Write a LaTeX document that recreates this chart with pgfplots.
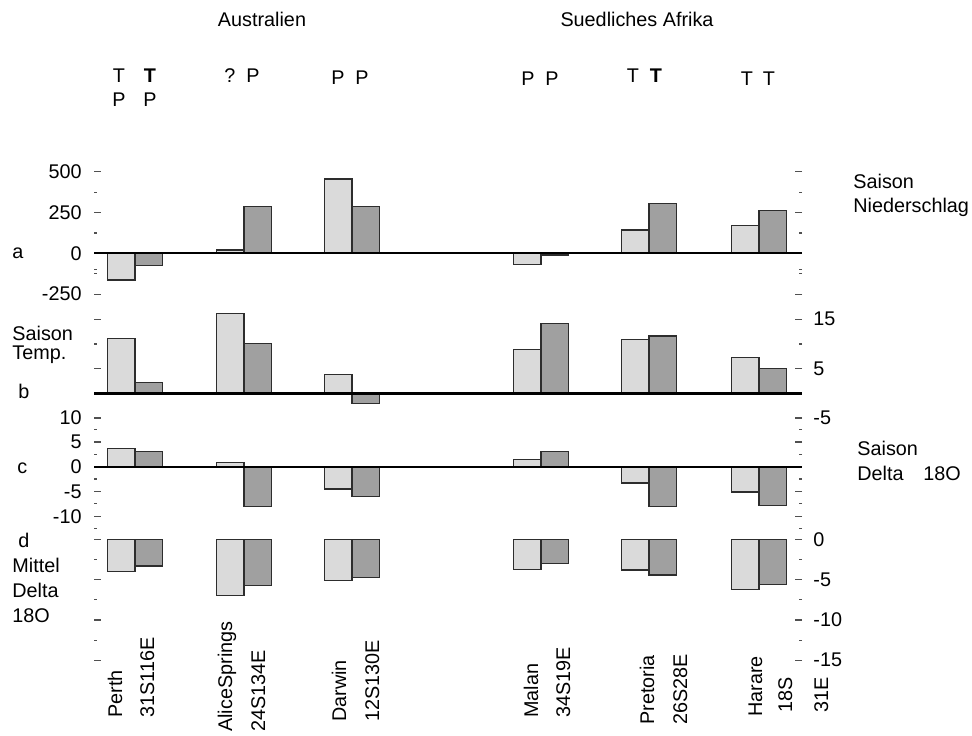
\documentclass[border=0pt]{standalone}
\usepackage{pgfplots}
\pgfplotsset{compat=1.18}
\usepackage{pgfplotstable}
\usepackage{fontspec}
\setmainfont{Liberation Sans}

\definecolor{barlight}{RGB}{218,218,218}
\definecolor{bardark}{RGB}{160,160,160}
\definecolor{baredge}{RGB}{45,45,45}
\definecolor{tickgray}{RGB}{80,80,80}

% station centre (x) and the two bars per station for each panel
\pgfplotstableread{
station   x   preL preD temL temD sdoL sdoD mdoL mdoD
Perth     135 -163  -72 11.1  2.3  3.7  3.1 -4.0 -3.3
Alice     244   20  285 16.2 10.1  0.8 -8.0 -7.0 -5.7
Darwin    352  455  285  3.8 -2.0 -4.5 -6.0 -5.1 -4.7
Malan     541  -66  -10  8.9 14.2  1.5  3.0 -3.7 -3.0
Pretoria  649  143  306 10.9 11.6 -3.3 -8.0 -3.8 -4.4
Harare    759  169  265  7.2  5.0 -5.1 -7.8 -6.2 -5.6
}\stations

\pgfplotsset{
  panel/.style={
    scale only axis, width=354pt, xmin=94, xmax=802,
    axis line style={draw=none}, xtick=\empty,
    tick align=inside, ytick pos=both,
    major tick length=3.5pt, minor tick length=1.5pt,
    every tick/.style={tickgray, line width=0.6pt},
    /pgf/number format/assume math mode=true,
    clip=false, anchor=south west,
  },
  leftlabels/.style={yticklabel pos=left,
    yticklabel style={inner sep=0pt, anchor=east, xshift=-6pt}},
  rightlabels/.style={yticklabel pos=right,
    yticklabel style={inner sep=0pt, anchor=west, xshift=5.5pt}},
  lightbar/.style={ybar, bar width=27.5, bar shift=0pt,
    fill=barlight, draw=baredge, line width=0.6pt},
  darkbar/.style={ybar, bar width=27.5, bar shift=0pt,
    fill=bardark, draw=baredge, line width=0.6pt},
  zeroline/.style={black, line width=1.1pt, no marks},
}

\begin{document}
\begin{tikzpicture}[font=\fontsize{9.9}{12}\selectfont]
\path[use as bounding box] (0,0) rectangle (486pt,367.5pt);

% a: seasonal precipitation
\begin{axis}[panel, leftlabels, at={(47pt,219.6pt)}, height=62.85pt,
  ymin=-260, ymax=510, ytick={-250,0,250,500}, minor ytick={-125,125,375}]
  \addplot[lightbar] table[x expr=\thisrow{x}-13.75, y=preL]{\stations};
  \addplot[darkbar]  table[x expr=\thisrow{x}+13.75, y=preD]{\stations};
  \addplot[zeroline] coordinates {(94,0) (802,0)};
\end{axis}

% b: seasonal temperature
\begin{axis}[panel, rightlabels, at={(47pt,158.375pt)}, height=74.25pt,
  ymin=-5, ymax=25, ytick={-5,5,15}, minor ytick={0,10,20,25}]
  \addplot[lightbar] table[x expr=\thisrow{x}-13.75, y=temL]{\stations};
  \addplot[darkbar]  table[x expr=\thisrow{x}+13.75, y=temD]{\stations};
  \addplot[zeroline] coordinates {(94,0) (802,0)};
\end{axis}

% c: seasonal delta 18O
\begin{axis}[panel, leftlabels, at={(47pt,103.2pt)}, height=55.7pt,
  ymin=-12.5, ymax=10, ytick={-10,-5,0,5,10},
  minor ytick={-12.5,-7.5,-2.5,2.5,7.5}]
  \addplot[lightbar] table[x expr=\thisrow{x}-13.75, y=sdoL]{\stations};
  \addplot[darkbar]  table[x expr=\thisrow{x}+13.75, y=sdoD]{\stations};
  \addplot[zeroline] coordinates {(94,0) (802,0)};
\end{axis}

% d: mean delta 18O
\begin{axis}[panel, rightlabels, at={(47pt,37.375pt)}, height=60.375pt,
  ymin=-15, ymax=0, ytick={-15,-10,-5,0}, minor ytick={-12.5,-7.5,-2.5}]
  \addplot[lightbar] table[x expr=\thisrow{x}-13.75, y=mdoL]{\stations};
  \addplot[darkbar]  table[x expr=\thisrow{x}+13.75, y=mdoD]{\stations};
\end{axis}

% annotations, placed in a top-left origin frame (0.5pt steps)
\begin{scope}[x=0.5pt, y=-0.5pt, yshift=367.5pt]
  \node[anchor=base] at (262,27) {Australien};
  \node[anchor=base] at (637,27) {Suedliches Afrika};

  \node[anchor=base] at (119,83) {T};
  \node[anchor=base] at (150,83) {\textbf{T}};
  \node[anchor=base] at (119,107) {P};
  \node[anchor=base] at (150,107) {P};
  \node[anchor=base] at (230,83) {?};
  \node[anchor=base] at (253,83) {P};
  \node[anchor=base] at (338,85) {P};
  \node[anchor=base] at (362,85) {P};
  \node[anchor=base] at (528,86) {P};
  \node[anchor=base] at (552,86) {P};
  \node[anchor=base] at (633,83) {T};
  \node[anchor=base] at (656,83) {\textbf{T}};
  \node[anchor=base] at (747,86) {T};
  \node[anchor=base] at (769,86) {T};

  \node[anchor=base west, inner sep=0pt] at (12,258) {a};
  \node[anchor=base west, inner sep=0pt] at (12,340) {Saison};
  \node[anchor=base west, inner sep=0pt] at (12,359) {Temp.};
  \node[anchor=base west, inner sep=0pt] at (18,398) {b};
  \node[anchor=base west, inner sep=0pt] at (17,473) {c};
  \node[anchor=base west, inner sep=0pt] at (18,547) {d};
  \node[anchor=base west, inner sep=0pt] at (12,572) {Mittel};
  \node[anchor=base west, inner sep=0pt] at (12,597) {Delta};
  \node[anchor=base west, inner sep=0pt] at (12,622) {18O};

  \node[anchor=base west, inner sep=0pt] at (853,189) {Saison};
  \node[anchor=base west, inner sep=0pt] at (853,212) {Niederschlag};
  \node[anchor=base west, inner sep=0pt] at (857,455) {Saison};
  \node[anchor=base west, inner sep=0pt] at (857,480) {Delta};
  \node[anchor=base west, inner sep=0pt] at (923,480) {18O};

  \foreach \xx/\yy/\txt in {122/718/Perth, 154/718/31S116E,
      232/732/AliceSprings, 265/732/24S134E, 346/722/Darwin, 379/722/12S130E,
      538/718/Malan, 570/718/34S19E, 654/725/Pretoria, 687/725/26S28E,
      762/717/Harare, 792/713/18S, 828/713/31E}
    \node[rotate=90, anchor=base west, inner sep=0pt] at (\xx,\yy) {\txt};
\end{scope}
\end{tikzpicture}
\end{document}
